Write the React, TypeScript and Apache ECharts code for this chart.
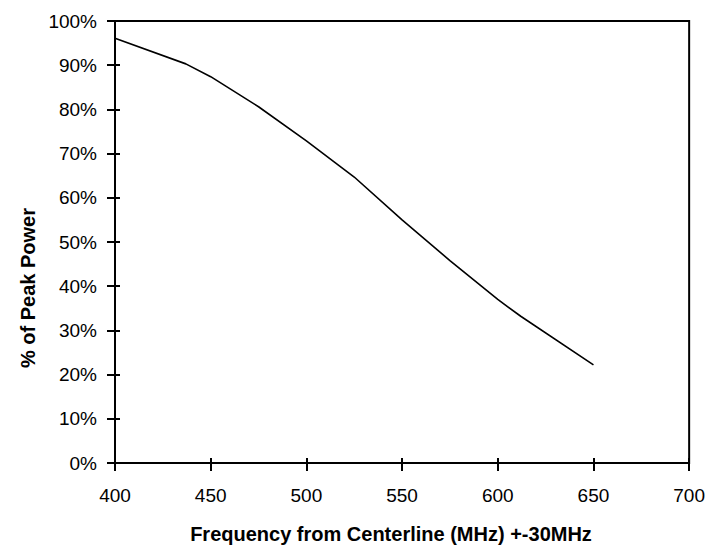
import React, { useEffect, useRef } from "react";
import * as echarts from "echarts";

const frequencies = [400, 437, 450, 475, 500, 525, 550, 575, 600, 612, 650];
const peakPower = [96.1, 90.3, 87.4, 80.6, 72.9, 64.7, 55.0, 45.8, 37.0, 33.2, 22.2];
const xTitle = "Frequency from Centerline (MHz) +-30MHz";
const yTitle = "% of Peak Power";

export default function App() {
  const ref = useRef<HTMLDivElement>(null);
  useEffect(() => {
    if (!ref.current) return;
    const chart = echarts.init(ref.current, undefined, { renderer: "svg" });
    const font = "Liberation Sans, Arial, sans-serif";
    const data = frequencies.map((f, i) => [f, peakPower[i]]);
    const axisLine = { show: true, lineStyle: { color: "#000", width: 2 } };
    chart.setOption({
      animation: false,
      backgroundColor: "#fff",
      grid: {
        left: 115,
        right: 18,
        top: 21,
        bottom: 82,
        show: true,
        borderColor: "#000",
        borderWidth: 2,
        backgroundColor: "transparent",
      },
      xAxis: [
        {
          type: "value",
          min: 400,
          max: 700,
          interval: 50,
          position: "bottom",
          axisLine,
          axisTick: { show: true, inside: false, length: 8, lineStyle: { color: "#000", width: 2 } },
          axisLabel: { color: "#000", fontSize: 19, fontFamily: font, margin: 23 },
          splitLine: { show: false },
        },
        {
          type: "value",
          min: 400,
          max: 700,
          interval: 50,
          position: "bottom",
          axisLine: { show: false },
          axisTick: { show: true, inside: true, length: 5, lineStyle: { color: "#000", width: 2 } },
          axisLabel: { show: false },
          splitLine: { show: false },
        },
      ],
      yAxis: [
        {
          type: "value",
          min: 0,
          max: 100,
          interval: 10,
          position: "left",
          axisLine,
          axisTick: { show: true, inside: false, length: 8, lineStyle: { color: "#000", width: 2 } },
          axisLabel: {
            color: "#000",
            fontSize: 19,
            fontFamily: font,
            margin: 18,
            formatter: (v: number) => `${v}%`,
          },
          splitLine: { show: false },
        },
        {
          type: "value",
          min: 0,
          max: 100,
          interval: 10,
          position: "left",
          axisLine: { show: false },
          axisTick: { show: true, inside: true, length: 5, lineStyle: { color: "#000", width: 2 } },
          axisLabel: { show: false },
          splitLine: { show: false },
        },
      ],
      series: [
        {
          type: "line",
          data,
          xAxisIndex: 0,
          yAxisIndex: 0,
          showSymbol: false,
          symbol: "none",
          lineStyle: { color: "#000", width: 1.6 },
        },
      ],
      graphic: [
        {
          type: "text",
          x: 391,
          y: 534,
          style: {
            text: xTitle,
            fill: "#000",
            font: `bold 20px ${font}`,
            align: "center",
            verticalAlign: "middle",
          },
        },
        {
          type: "text",
          x: 28,
          y: 288,
          rotation: Math.PI / 2,
          style: {
            text: yTitle,
            fill: "#000",
            font: `bold 20px ${font}`,
            align: "center",
            verticalAlign: "middle",
          },
        },
      ],
    });
    return () => chart.dispose();
  }, []);
  return <div ref={ref} style={{ width: 708, height: 545, position: "absolute", left: 0, top: 0 }} />;
}
